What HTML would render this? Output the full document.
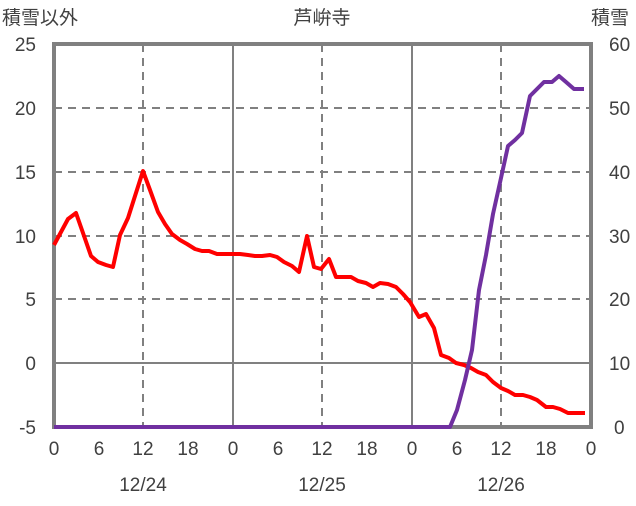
<!DOCTYPE html><html><head><style>body{margin:0;background:#fff}text{font-family:"Liberation Sans","Noto Sans CJK JP",sans-serif;font-size:19px;fill:#404040}</style></head><body>
<svg width="636" height="501" xmlns="http://www.w3.org/2000/svg">
<g stroke="#808080" stroke-width="2" stroke-dasharray="8,6">
<line x1="54" y1="108" x2="591" y2="108"/><line x1="54" y1="172" x2="591" y2="172"/><line x1="54" y1="236" x2="591" y2="236"/><line x1="54" y1="299" x2="591" y2="299"/>
<line x1="143" y1="44" x2="143" y2="427"/><line x1="322" y1="44" x2="322" y2="427"/><line x1="501" y1="44" x2="501" y2="427"/>
</g>
<g stroke="#808080" stroke-width="2">
<line x1="54" y1="363" x2="591" y2="363"/><line x1="233" y1="44" x2="233" y2="427"/><line x1="412" y1="44" x2="412" y2="427"/>
</g>
<rect x="54" y="44" width="537" height="383" fill="none" stroke="#808080" stroke-width="4"/>
<polyline fill="none" stroke="#ff0000" stroke-width="4" stroke-linejoin="round" points="54,245 61,232 68,219 76,213 83,233 91,256 98,262 106,265 113,267 120,235 128,218 135,196 143,171 150,190 158,212 165,224 172,234 180,240 187,244 195,249 202,251 209,251 217,254 225,254 233,254 240,254 248,255 255,256 262,256 270,255 277,257 284,262 292,266 299,272 307,236 314,267 321,269 329,259 336,277 344,277 351,277 358,281 366,283 373,287 380,283 388,284 396,287 403,294 410,302 419,317 426,314 434,328 441,355 449,358 456,363 464,365 471,368 478,372 486,375 493,382 501,388 508,391 515,395 523,395 530,397 537,400 546,407 553,407 560,409 568,413 575,413 585,413"/>
<polyline fill="none" stroke="#7030a0" stroke-width="4" stroke-linejoin="round" points="54,427 450,427 457,410 465,380 472,350 479,290 486,255 493,214 501,178 508,146 515,140 522,133 530,96 537,89 544,82 552,82 559,76 566,82 574,89 584,89"/>
<g text-anchor="end"><text x="36" y="51">25</text><text x="36" y="115">20</text><text x="36" y="179">15</text><text x="36" y="243">10</text><text x="36" y="306">5</text><text x="36" y="370">0</text><text x="36" y="434">-5</text></g>
<g text-anchor="start"><text x="609" y="51">60</text><text x="609" y="115">50</text><text x="609" y="179">40</text><text x="609" y="243">30</text><text x="609" y="306">20</text><text x="609" y="370">10</text><text x="614" y="434">0</text></g>
<g text-anchor="middle"><text x="54" y="455">0</text><text x="99" y="455">6</text><text x="143" y="455">12</text><text x="188" y="455">18</text><text x="233" y="455">0</text><text x="278" y="455">6</text><text x="322" y="455">12</text><text x="367" y="455">18</text><text x="412" y="455">0</text><text x="457" y="455">6</text><text x="501" y="455">12</text><text x="546" y="455">18</text><text x="591" y="455">0</text>
<text x="143" y="491">12/24</text><text x="322" y="491">12/25</text><text x="501" y="491">12/26</text>
<text x="322" y="24">芦峅寺</text></g>
<text x="2" y="24">積雪以外</text><text x="591" y="24">積雪</text>
</svg></body></html>
